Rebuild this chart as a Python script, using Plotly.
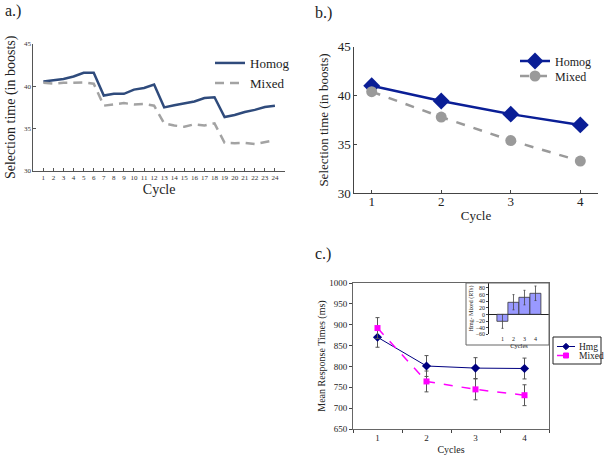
import plotly.graph_objects as go

# Panel a: per-cycle selection times
cycles_a = list(range(1, 25))
homog_a = [40.55, 40.7, 40.85, 41.15, 41.6, 41.6, 38.9, 39.1, 39.1, 39.6, 39.8, 40.2,
           37.5, 37.75, 38.0, 38.2, 38.6, 38.7, 36.35, 36.6, 36.95, 37.2, 37.55, 37.7]
mixed_a = [40.4, 40.3, 40.4, 40.45, 40.45, 40.3, 37.7, 37.85, 38.0, 37.85, 37.9, 37.7,
           35.6, 35.35, 35.2, 35.5, 35.35, 35.6, 33.3, 33.25, 33.3, 33.15, 33.4, 33.6]

# Panel b: averaged over blocks
cycles_b = [1, 2, 3, 4]
homog_b = [41.0, 39.45, 38.1, 37.0]
mixed_b = [40.4, 37.8, 35.4, 33.3]

# Panel c: response times
cycles_c = ["1", "2", "3", "4"]
hmg_c = [870, 801, 796, 795]
hmg_err = [24, 25, 25, 25]
mixed_c = [892, 764, 745, 731]
mixed_err = [25, 25, 25, 25]

# Inset: Hmg - Mixed
diff_c = [-21, 37, 51, 64]
diff_err = [21, 23, 22, 22]

W, H = 604, 461
SERIF = "Liberation Serif"
NAVY_C = "#000080"
MAGENTA = "#ff00ff"


def px_x(p):
    return p / W


def px_y(p):
    return 1 - p / H


def one_item_legend(x, y, size):
    # a legend holding a single entry, so every row can be placed exactly
    return dict(x=px_x(x), y=px_y(y), xanchor="left", yanchor="middle",
                bgcolor="rgba(0,0,0,0)", font=dict(family=SERIF, size=size),
                itemwidth=30)


fig = go.Figure()

# ---- panel a
fig.add_trace(go.Scatter(x=cycles_a, y=homog_a, mode="lines", name="Homog",
                         line=dict(color="#2f4b7c", width=2.5),
                         xaxis="x", yaxis="y", legend="legend"))
fig.add_trace(go.Scatter(x=cycles_a, y=mixed_a, mode="lines", name="Mixed",
                         line=dict(color="#a3a3a3", width=2.5, dash="9px,6px"),
                         xaxis="x", yaxis="y", legend="legend4"))

# ---- panel b
fig.add_trace(go.Scatter(x=cycles_b, y=homog_b, mode="lines+markers", name="Homog",
                         line=dict(color="#0a1e96", width=2.5),
                         marker=dict(symbol="diamond", size=13, color="#0a1e96"),
                         xaxis="x2", yaxis="y2", legend="legend2"))
fig.add_trace(go.Scatter(x=cycles_b, y=mixed_b, mode="lines+markers", name="Mixed",
                         line=dict(color="#9a9a9a", width=2.5, dash="dash"),
                         marker=dict(symbol="circle", size=11, color="#9a9a9a"),
                         xaxis="x2", yaxis="y2", legend="legend3"))

# ---- panel c
fig.add_trace(go.Scatter(x=cycles_c, y=hmg_c, mode="lines+markers", name="Hmg",
                         line=dict(color=NAVY_C, width=1),
                         marker=dict(symbol="diamond", size=7, color=NAVY_C),
                         error_y=dict(type="data", array=hmg_err, color="#555555",
                                      thickness=1, width=2),
                         xaxis="x3", yaxis="y3", showlegend=False))
fig.add_trace(go.Scatter(x=cycles_c, y=mixed_c, mode="lines+markers", name="Mixed",
                         line=dict(color=MAGENTA, width=1.5, dash="dash"),
                         marker=dict(symbol="square", size=6, color=MAGENTA),
                         error_y=dict(type="data", array=mixed_err, color="#555555",
                                      thickness=1, width=2),
                         xaxis="x3", yaxis="y3", showlegend=False))

# ---- inset
fig.add_trace(go.Bar(x=cycles_b, y=diff_c, width=1, showlegend=False,
                     marker=dict(color="#9999ff", line=dict(color="#333333", width=0.8)),
                     error_y=dict(type="data", array=diff_err, color="#444444",
                                  thickness=0.8, width=1),
                     xaxis="x4", yaxis="y4"))

tick_a = dict(family=SERIF, size=7, color="#333")
tick_b = dict(family=SERIF, size=13, color="#222")
tick_c = dict(family=SERIF, size=9, color="#222")
tick_i = dict(family=SERIF, size=6, color="#222")

fig.update_layout(
    width=W, height=H,
    margin=dict(l=0, r=0, t=0, b=0, autoexpand=False),
    paper_bgcolor="white", plot_bgcolor="rgba(0,0,0,0)",
    font=dict(family=SERIF, color="#222"),
    xaxis=dict(domain=[px_x(33.3), px_x(285)], range=[0, 25], anchor="y",
               tickvals=cycles_a, ticks="inside", ticklen=3, tickcolor="#555",
               showline=True, linecolor="#555", linewidth=1, showgrid=False, zeroline=False,
               tickfont=tick_a,
               title=dict(text="Cycle", font=dict(family=SERIF, size=14), standoff=3)),
    yaxis=dict(domain=[px_y(170.7), px_y(44)], range=[30, 45], anchor="x",
               tickvals=[30, 35, 40, 45], ticks="inside", ticklen=3, tickcolor="#555",
               showline=True, linecolor="#555", linewidth=1, showgrid=False, zeroline=False,
               tickfont=tick_a,
               title=dict(text="Selection time (in boosts)", font=dict(family=SERIF, size=14),
                          standoff=4)),
    xaxis2=dict(domain=[px_x(354.3), px_x(597.7)], range=[0.75, 4.25], anchor="y2",
                tickvals=cycles_b, ticks="inside", ticklen=3, tickcolor="#444",
                showline=True, linecolor="#444", linewidth=1, showgrid=False, zeroline=False,
                tickfont=tick_b, ticklabelstandoff=-4,
                title=dict(text="Cycle", font=dict(family=SERIF, size=13), standoff=2)),
    yaxis2=dict(domain=[px_y(193.3), px_y(46.7)], range=[30, 45], anchor="x2",
                tickvals=[30, 35, 40, 45], ticks="inside", ticklen=3, tickcolor="#444",
                showline=True, linecolor="#444", linewidth=1, showgrid=False, zeroline=False,
                tickfont=tick_b,
                title=dict(text="Selection time (in boosts)", font=dict(family=SERIF, size=13),
                           standoff=6)),
    xaxis3=dict(domain=[px_x(353), px_x(549)], type="category", range=[-0.5, 3.5],
                anchor="y3", tickson="boundaries", ticks="outside", ticklen=3,
                tickcolor="#444", showline=True, mirror=True, linecolor="#666",
                linewidth=1, showgrid=False, zeroline=False, tickfont=tick_c,
                title=dict(text="Cycles", font=dict(family=SERIF, size=10), standoff=4)),
    yaxis3=dict(domain=[px_y(429), px_y(283)], range=[650, 1000], anchor="x3",
                dtick=50, ticks="outside", ticklen=3, tickcolor="#444",
                showline=True, mirror=True, linecolor="#666", linewidth=1,
                showgrid=False, zeroline=False, tickfont=tick_c,
                title=dict(text="Mean Response Times (ms)", font=dict(family=SERIF, size=10),
                           standoff=1)),
    xaxis4=dict(domain=[px_x(489.3), px_x(548.7)], range=[-0.2, 5.2], anchor="y4",
                tickvals=cycles_b, ticks="", showline=False, showgrid=False,
                zeroline=False, tickfont=tick_i,
                title=dict(text="Cycles", font=dict(family=SERIF, size=6.5), standoff=0)),
    yaxis4=dict(domain=[px_y(334.3), px_y(282.7)], range=[-60, 96], anchor="x4",
                tickvals=[-60, -40, -20, 0, 20, 40, 60, 80], ticks="outside", ticklen=2,
                showline=True, linecolor="#222", linewidth=1, showgrid=False,
                zeroline=True, zerolinecolor="#222", zerolinewidth=1, tickfont=tick_i,
                title=dict(text="Hmg- Mixed (RTs)", font=dict(family=SERIF, size=6),
                           standoff=1)),
    legend=one_item_legend(210, 63, 13),
    legend4=one_item_legend(210, 83, 13),
    legend2=one_item_legend(515, 61, 12),
    legend3=one_item_legend(515, 76, 12),
    bargap=0,
)

# inset frame
fig.add_shape(type="rect", xref="paper", yref="paper",
              x0=px_x(466), x1=px_x(549), y0=px_y(345), y1=px_y(283),
              line=dict(color="#666", width=1), fillcolor="rgba(0,0,0,0)", layer="above")

# compact legend box for panel c
fig.add_shape(type="rect", xref="paper", yref="paper",
              x0=px_x(553), x1=px_x(601), y0=px_y(364), y1=px_y(337),
              line=dict(color="#222", width=1), fillcolor="white")
fig.add_shape(type="line", xref="paper", yref="paper",
              x0=px_x(557), x1=px_x(575), y0=px_y(346.5), y1=px_y(346.5),
              line=dict(color=NAVY_C, width=1))
fig.add_shape(type="path", xref="paper", yref="paper",
              path=f"M {px_x(566)} {px_y(343.3)} L {px_x(569.2)} {px_y(346.5)} "
                   f"L {px_x(566)} {px_y(349.7)} L {px_x(562.8)} {px_y(346.5)} Z",
              line=dict(color=NAVY_C, width=1), fillcolor=NAVY_C)
fig.add_shape(type="line", xref="paper", yref="paper",
              x0=px_x(557), x1=px_x(575), y0=px_y(355.5), y1=px_y(355.5),
              line=dict(color=MAGENTA, width=1.5, dash="dash"))
fig.add_shape(type="rect", xref="paper", yref="paper",
              x0=px_x(563.5), x1=px_x(568.5), y0=px_y(358), y1=px_y(353),
              line=dict(color=MAGENTA, width=1), fillcolor=MAGENTA)
for txt, y in [("Hmg", 346.5), ("Mixed", 355.5)]:
    fig.add_annotation(text=txt, x=px_x(577), y=px_y(y), xref="paper", yref="paper",
                       xanchor="left", yanchor="middle", showarrow=False,
                       font=dict(family=SERIF, size=9.5, color="#222"))

# panel labels
for txt, x, y in [("a.)", 3, 11), ("b.)", 313, 13), ("c.)", 313, 254)]:
    fig.add_annotation(text=txt, x=px_x(x), y=px_y(y), xref="paper", yref="paper",
                       xanchor="left", yanchor="middle", showarrow=False,
                       font=dict(family=SERIF, size=16, color="#222"))

# the page body has a default 8px margin; drop it so the figure fills the window
fig.write_html("out.html", config={"displayModeBar": False},
               post_script="document.body.style.margin = '0';")
